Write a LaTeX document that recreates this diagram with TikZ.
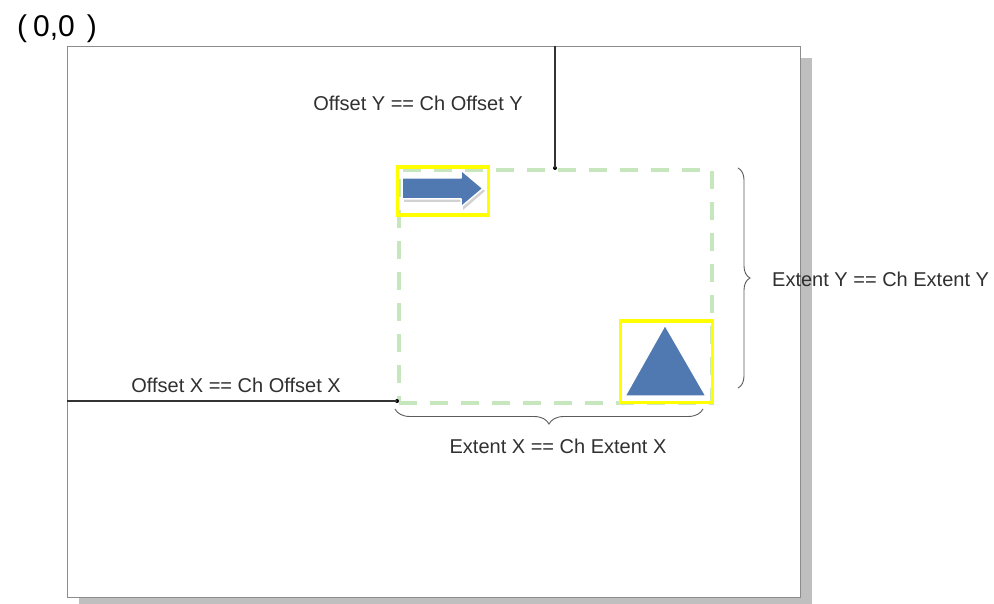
\documentclass[tikz,border=0pt]{standalone}
\usepackage{fontspec}
\setmainfont{Liberation Sans}
\usetikzlibrary{decorations.pathreplacing}
\definecolor{shadowgray}{HTML}{BFBFBF}
\definecolor{framegray}{HTML}{8C8C8C}
\definecolor{linedark}{HTML}{333333}
\definecolor{dashgreen}{HTML}{C6E6BE}
\definecolor{markyellow}{HTML}{FFFF00}
\definecolor{shapeblue}{HTML}{5079B2}
\definecolor{textgray}{HTML}{303030}
\tikzset{
  lbl/.style={inner sep=0pt, text=textgray, font=\fontsize{20}{23}\selectfont},
  guide/.style={draw=linedark, line width=1.4pt},
  dotmark/.style={circle, fill=black, inner sep=0pt, minimum size=4pt},
  selbox/.style={draw=markyellow, line width=3.3pt},
  extentbox/.style={draw=dashgreen, line width=3.8pt, dash pattern=on 18pt off 13pt},
  bracestyle/.style={draw=linedark!80, line width=0.9pt, decorate},
  blueshape/.style={fill=shapeblue, draw=white, line width=1.5pt, line join=round}
}
\begin{document}
\begin{tikzpicture}[x=1pt,y=-1pt]
\useasboundingbox (0,0) rectangle (994,604);
% canvas shadow and frame
\fill[shadowgray] (79,58) rectangle (812,604);
\fill[white] (67,46) rectangle (800,597);
\node[draw=framegray, line width=1.4pt, inner sep=0pt, minimum width=733pt, minimum height=551pt, anchor=north west] (canvas) at (67,46) {};
% origin label
\node[inner sep=0pt, text=black, font=\fontsize{30}{33}\selectfont] (origin) at (57,29) {(\hspace{6pt}0,0\hspace{12pt})};
% extent (dashed) box
\node[extentbox, inner sep=0pt, minimum width=313pt, minimum height=233pt, anchor=north west] (extent) at (397,168) {};
% offset guides
\coordinate (topedge) at (555,46);
\node[dotmark] (ydot) at (555,168) {};
\draw[guide] (topedge) -- (ydot.center);
\coordinate (leftedge) at (67,401);
\node[dotmark] (xdot) at (397,401) {};
\draw[guide] (leftedge) -- (xdot.center);
% selection boxes
\node[selbox, inner sep=0pt, minimum width=91pt, minimum height=48pt, anchor=north west] (box1) at (395.5,165.5) {};
\node[selbox, inner sep=0pt, minimum width=92pt, minimum height=81pt, anchor=north west] (box2) at (618.5,319.5) {};
% block arrow with shadow
\fill[gray!35] (404,181) -- (463,181) -- (463,173) -- (485,191) -- (463,210) -- (463,202) -- (404,202) -- cycle;
\path[blueshape] (402,178) -- (461,178) -- (461,170) -- (483,188.5) -- (461,207) -- (461,199) -- (402,199) -- cycle;
% triangle
\path[blueshape] (665,325) -- (706,396) -- (625,396) -- cycle;
% braces
\coordinate (bry1) at (738,168);
\coordinate (bry2) at (738,388);
\draw[bracestyle, decoration={brace, amplitude=12pt}] (bry1) -- (bry2);
\coordinate (brx1) at (703,409);
\coordinate (brx2) at (395,409);
\draw[bracestyle, decoration={brace, amplitude=15pt}] (brx1) -- (brx2);
% labels
\node[lbl] (offy) at (418,103) {Offset Y == Ch Offset Y};
\node[lbl] (offx) at (236,385) {Offset X == Ch Offset X};
\node[lbl, anchor=west] (exty) at (772,279) {Extent Y == Ch Extent Y};
\node[lbl] (extx) at (558,446) {Extent X == Ch Extent X};
\end{tikzpicture}
\end{document}
